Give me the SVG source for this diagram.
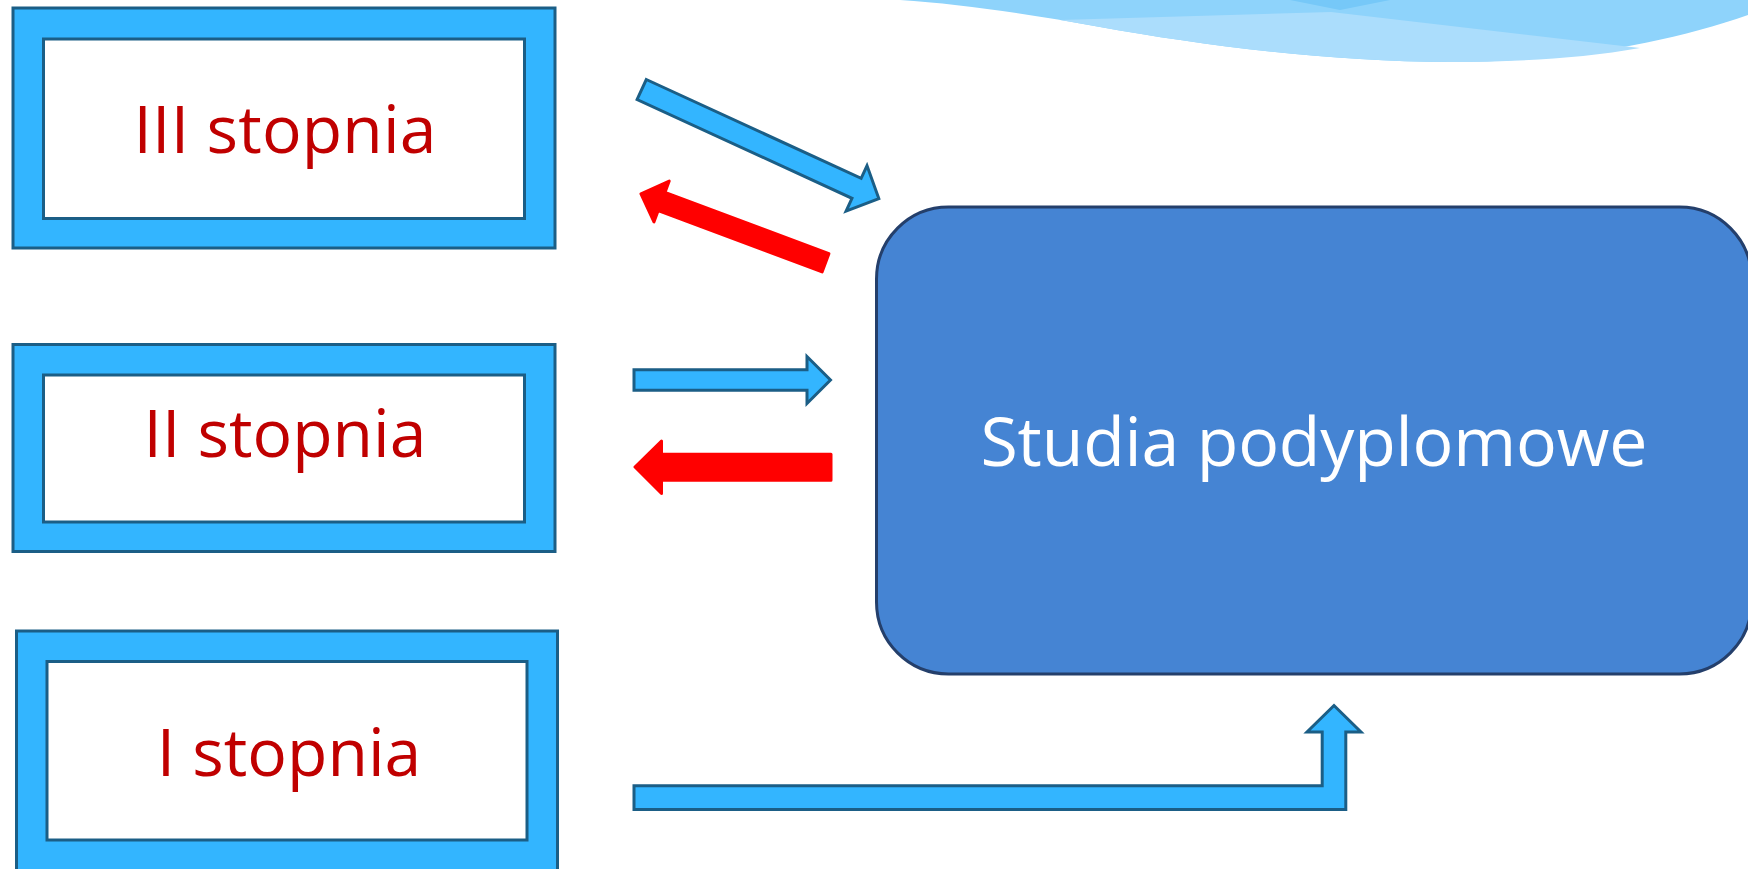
<svg xmlns="http://www.w3.org/2000/svg" width="1748" height="869" viewBox="0 0 1748 869">
  <style>
    .frame { fill: #33B5FF; stroke: #1B5E86; stroke-width: 3; }
    .inner { fill: #FFFFFF; stroke: #1B5E86; stroke-width: 3; }
    .lbl { font-family: "Open Sans", "Noto Sans", "DejaVu Sans", sans-serif; font-size: 66px; fill: #C00000; text-anchor: middle; }
    .main { fill: #4584D3; stroke: #243F6B; stroke-width: 3; }
    .mainlbl { font-family: "Open Sans", "Noto Sans", "DejaVu Sans", sans-serif; font-size: 68px; fill: #FFFFFF; text-anchor: middle; }
    .barrow { fill: #33B5FF; stroke: #1B5E86; stroke-width: 3; stroke-linejoin: miter; }
    .rarrow { fill: #FF0000; stroke: #FF0000; stroke-width: 3; stroke-linejoin: round; }
  </style>

  <rect x="0" y="0" width="1748" height="869" fill="#FFFFFF"/>

  <!-- decorative swoosh -->
  <g id="decoration">
    <path d="M 900 0 L 1748 0 L 1748 15 C 1670 42, 1570 62, 1450 62 C 1330 62, 1200 45, 1100 27 C 1030 14, 960 4, 900 0 Z" fill="#8ED3FB"/>
    <path d="M 1060 20 L 1331 12 L 1640 48 C 1580 59, 1510 62, 1450 62 C 1330 62, 1200 45, 1100 27 C 1085 24, 1072 22, 1060 20 Z" fill="#ABDDFC"/>
    <path d="M 1290 0 L 1390 0 L 1340 10 Z" fill="#76C8F8"/>
  </g>

  <g id="node-III">
    <rect class="frame" x="13" y="8" width="542" height="240"/>
    <rect class="inner" x="43.5" y="39" width="481" height="179.5"/>
    <text class="lbl" x="285" y="153" textLength="303">III stopnia</text>
  </g>

  <g id="node-II">
    <rect class="frame" x="13" y="344.5" width="542" height="207"/>
    <rect class="inner" x="43.5" y="375" width="481" height="147"/>
    <text class="lbl" x="285" y="457">II stopnia</text>
  </g>

  <g id="node-I">
    <rect class="frame" x="16.5" y="631" width="541" height="250"/>
    <rect class="inner" x="47" y="661.5" width="480" height="178.5"/>
    <text class="lbl" x="289" y="776">I stopnia</text>
  </g>

  <g id="node-studia">
    <rect class="main" x="876.5" y="207" width="875" height="467" rx="72" ry="72"/>
    <text class="mainlbl" x="1314" y="465.5" textLength="667">Studia podyplomowe</text>
  </g>

  <g id="connectors">
    <!-- III -> Studia (blue diagonal) -->
    <polygon class="barrow" transform="translate(641.7,89.5) rotate(24.7)"
      points="0,-11 236.5,-11 236.5,-25 261,0 236.5,25 236.5,11 0,11"/>
    <!-- Studia -> III (red diagonal) -->
    <polygon class="rarrow" transform="translate(825.5,262.8) rotate(200.5)"
      points="0,-9.7 175,-9.7 175,-21.8 197,0 175,21.8 175,9.7 0,9.7"/>
    <!-- II -> Studia (blue horizontal) -->
    <polygon class="barrow" points="634,369.8 807,369.8 807,356.5 830.5,380 807,403.5 807,390.2 634,390.2"/>
    <!-- Studia -> II (red horizontal) -->
    <polygon class="rarrow" points="635,467 661.5,441 661.5,454.2 831,454.2 831,480.2 661.5,480.2 661.5,493.5"/>
    <!-- I -> Studia (bent up arrow) -->
    <polygon class="barrow" points="634,785.8 1322.2,785.8 1322.2,732 1307,732 1334,705.5 1361,732 1345.8,732 1345.8,809.5 634,809.5"/>
  </g>
</svg>
